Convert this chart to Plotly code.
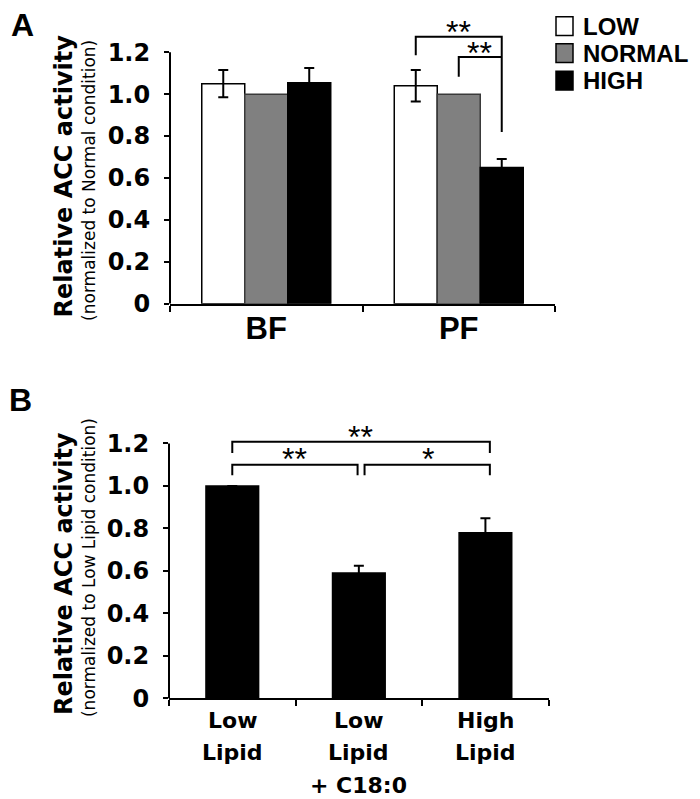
import plotly.graph_objects as go

W, H = 700, 799

# ---------------- data ----------------
cats_a = ["BF", "PF"]
series_names = ["LOW", "NORMAL", "HIGH"]
low_vals = [1.05, 1.04]
low_err = [0.065, 0.075]
normal_vals = [1.0, 1.0]
normal_err = [0.0, 0.0]
high_vals = [1.055, 0.65]
high_err = [0.07, 0.04]

cats_b = ["Low<br>Lipid", "Low<br>Lipid<br>+ C18:0", "High<br>Lipid"]
b_vals = [1.0, 0.59, 0.78]
b_err = [0.0, 0.035, 0.068]

yticks = [0, 0.2, 0.4, 0.6, 0.8, 1.0, 1.2]
yticktext = ["0", "0.2", "0.4", "0.6", "0.8", "1.0", "1.2"]

# ---------------- styles ----------------
fill_colors = ["#ffffff", "#808080", "#000000"]
edge_colors = ["#000000", "#3a3a3a", "#000000"]
BOLD = "DejaVu Sans"
ARIAL = "Liberation Sans"


def PX(x):
    return x / W


def PY(y):
    return 1 - y / H


# pixel geometry of the two plot areas
A_x0, A_x1, A_y0, A_unit, A_top = 162, 547, 301, 213.3, 1.32
B_x0, B_x1, B_y0, B_unit, B_top = 161, 540.7, 702.7, 216.2, 1.30

fig = go.Figure()

vals = [low_vals, normal_vals, high_vals]
errs = [low_err, normal_err, high_err]
for name, v, e, fc, ec in zip(series_names, vals, errs, fill_colors, edge_colors):
    show_err = any(x > 0 for x in e)
    fig.add_trace(go.Bar(
        x=cats_a, y=v, name=name, xaxis="x", yaxis="y",
        marker=dict(color=fc, line=dict(color=ec, width=1.5)),
        error_y=dict(type="data", array=e, color="black", thickness=2, width=5, visible=show_err),
        showlegend=False,
    ))

fig.add_trace(go.Bar(
    x=list(range(len(cats_b))), y=b_vals, xaxis="x2", yaxis="y2",
    marker=dict(color="black", line=dict(color="black", width=1.5)),
    error_y=dict(type="data", array=b_err, color="black", thickness=2, width=5, visible=True),
    width=0.416, showlegend=False,
))

axis_common = dict(showgrid=False, zeroline=False, color="black")

fig.update_layout(
    width=W, height=H, margin=dict(l=0, r=0, t=0, b=0),
    paper_bgcolor="white", plot_bgcolor="white",
    barmode="group", bargap=0.33, bargroupgap=0,
    xaxis=dict(domain=[PX(A_x0), PX(A_x1)], anchor="y", type="category",
               showline=True, linewidth=2, linecolor="black",
               ticks="outside", tickson="boundaries", ticklen=6, tickwidth=2, tickcolor="black",
               tickfont=dict(family=ARIAL, size=31, color="black", weight="bold"),
               ticklabelstandoff=-4, **axis_common),
    yaxis=dict(domain=[PY(A_y0), PY(A_y0 - A_top * A_unit)], anchor="x", range=[0, A_top],
               showline=False, ticks="outside", ticklen=5, tickwidth=2, tickcolor="black",
               tickvals=yticks, ticktext=yticktext,
               tickfont=dict(family=BOLD, size=24, color="black", weight="bold"),
               ticklabelstandoff=9, **axis_common),
    xaxis2=dict(domain=[PX(B_x0), PX(B_x1)], anchor="y2", range=[-0.5, 2.5],
                showline=True, linewidth=2, linecolor="black",
                ticks="outside", tickvals=[-0.5, 0.5, 1.5, 2.5], ticklen=6, tickwidth=2,
                tickcolor="black", showticklabels=False, **axis_common),
    yaxis2=dict(domain=[PY(B_y0), PY(B_y0 - B_top * B_unit)], anchor="x2", range=[0, B_top],
                showline=False, ticks="outside", ticklen=5, tickwidth=2, tickcolor="black",
                tickvals=yticks, ticktext=yticktext,
                tickfont=dict(family=BOLD, size=24, color="black", weight="bold"),
                ticklabelstandoff=9, **axis_common),
)

shapes = []
# y axis lines (stop at 1.2)
for xr, yr in (("x domain", "y"), ("x2 domain", "y2")):
    shapes.append(dict(type="line", xref=xr, yref=yr, x0=0, x1=0, y0=0, y1=1.2,
                       line=dict(color="black", width=2)))


def bracket(xr, yr, xa, xb, ytop, yla, ylb):
    path = f"M {xa},{yla} L {xa},{ytop} L {xb},{ytop} L {xb},{ylb}"
    shapes.append(dict(type="path", xref=xr, yref=yr, path=path,
                       line=dict(color="black", width=2)))


# panel A brackets (PF group, bar offset 0.2233)
off = 0.2233
bracket("x", "y", 1 - off, 1 + off, 1.274, 1.186, 0.82)
bracket("x", "y", 1.0, 1 + off, 1.177, 1.083, 1.177)
# panel B brackets
bracket("x2", "y2", 0, 2.035, 1.208, 1.155, 1.155)
bracket("x2", "y2", 0, 0.99, 1.10, 1.05, 1.05)
bracket("x2", "y2", 1.045, 2.035, 1.10, 1.05, 1.05)

# manual legend boxes
leg_rows = [18.5, 46, 74]
for yc, fc, ec in zip(leg_rows, fill_colors, edge_colors):
    shapes.append(dict(type="rect", xref="paper", yref="paper",
                       x0=PX(548), x1=PX(565), y0=PY(yc + 9.5), y1=PY(yc - 9.5),
                       fillcolor=fc, line=dict(color="black", width=1.5)))

fig.update_layout(shapes=shapes)

ann = []
# legend text
for yc, name in zip(leg_rows, series_names):
    ann.append(dict(xref="paper", yref="paper", x=PX(574), y=PY(yc), text=name,
                    xanchor="left", yanchor="middle", showarrow=False, borderpad=0,
                    font=dict(family=ARIAL, size=24, color="black", weight="bold")))

# panel letters
ann.append(dict(xref="paper", yref="paper", x=PX(14), y=PY(17), text="A", showarrow=False,
                xanchor="center", yanchor="middle",
                font=dict(family=ARIAL, size=32, color="black", weight="bold")))
ann.append(dict(xref="paper", yref="paper", x=PX(12), y=PY(399), text="B", showarrow=False,
                xanchor="center", yanchor="middle",
                font=dict(family=ARIAL, size=32, color="black", weight="bold")))

# y titles
for (cx, cy, txt, sz, wt) in [
    (56, 171.5, "Relative ACC activity", 24, "bold"),
    (81, 176, "(normalized to Normal condition)", 17, "normal"),
    (56, 576, "Relative ACC activity", 24, "bold"),
    (81, 570, "(normalized to Low Lipid condition)", 17, "normal"),
]:
    ann.append(dict(xref="paper", yref="paper", x=PX(cx), y=PY(cy), text=txt, textangle=-90,
                    xanchor="center", yanchor="middle", showarrow=False,
                    font=dict(family=BOLD, size=sz, color="black", weight=wt)))

# significance stars
star_font = dict(family=ARIAL, size=32, color="black")
star_drop = 3
for (cx, cy, txt) in [(450, 21, "**"), (471.5, 42.5, "**"),
                      (352, 434, "**"), (286.5, 456.5, "**"), (419.5, 456.5, "*")]:
    ann.append(dict(xref="paper", yref="paper", x=PX(cx), y=PY(cy + star_drop), text=txt,
                    xanchor="center", yanchor="middle", showarrow=False, font=star_font))

# panel B category labels, line by line
line_centers = [725, 758, 791]
for i, lab in enumerate(cats_b):
    for j, part in enumerate(lab.split("<br>")):
        ann.append(dict(xref="x2", yref="paper", x=i, y=PY(line_centers[j]), text=part,
                        xanchor="center", yanchor="middle", showarrow=False,
                        font=dict(family=BOLD, size=22, color="black", weight="bold")))

fig.update_layout(annotations=ann)

fig.write_html("out.html")
